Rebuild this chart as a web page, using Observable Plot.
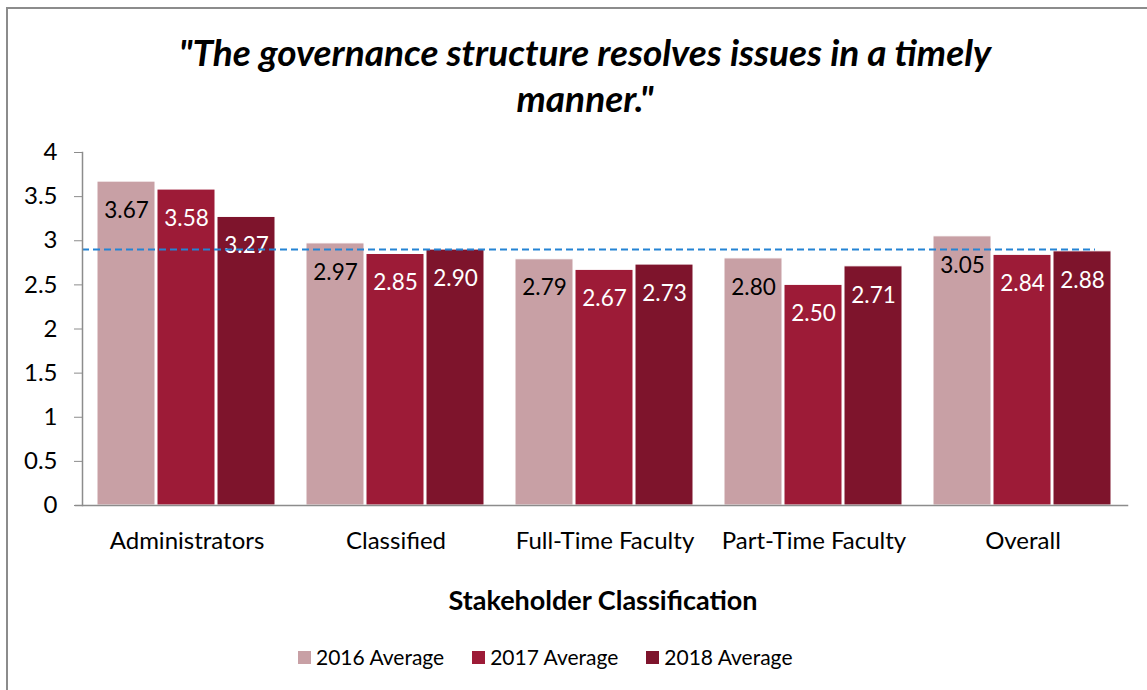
<!DOCTYPE html>
<html><head><meta charset="utf-8">
<script src="https://cdn.jsdelivr.net/npm/d3@7"></script>
<script src="https://cdn.jsdelivr.net/npm/@observablehq/plot@0.6"></script>
<style>
body{margin:0;background:#fff;font-family:Lato,sans-serif;color:#000;}
#wrap{position:relative;width:1147px;height:690px;overflow:hidden;background:#fff;}
#border{position:absolute;left:6px;top:7px;width:1200px;height:760px;border-left:2px solid #8c8c8c;border-top:2px solid #8c8c8c;}
#title{position:absolute;top:29px;left:0;width:1170px;text-align:center;font-style:italic;font-weight:700;font-size:37px;line-height:46px;}
#chart{position:absolute;top:130px;left:0;}
#xlabel{position:absolute;top:585px;left:0;width:1206px;text-align:center;font-weight:700;font-size:27px;line-height:30px;}
#legend{position:absolute;top:642px;left:298px;display:flex;align-items:center;font-size:21px;line-height:30px;}
.item{display:flex;align-items:center;margin-right:28px;}
.sw{width:13px;height:13px;margin-right:5px;}
</style></head>
<body><div id="wrap">
<div id="border"></div>
<div id="title">"The governance structure resolves issues in a timely<br>manner."</div>
<div id="chart"></div>
<div id="xlabel">Stakeholder Classification</div>
<div id="legend"></div>
</div>
<script>
const categories = ["Administrators", "Classified", "Full-Time Faculty", "Part-Time Faculty", "Overall"];
const years = ["2016 Average", "2017 Average", "2018 Average"];
const avg2016 = [3.67, 2.97, 2.79, 2.80, 3.05];
const avg2017 = [3.58, 2.85, 2.67, 2.50, 2.84];
const avg2018 = [3.27, 2.90, 2.73, 2.71, 2.88];
const benchmark = 2.9;
const yTicks = [0, 0.5, 1, 1.5, 2, 2.5, 3, 3.5, 4];
const colors = ["#C8A0A5", "#9D1B37", "#7E142C"];

const series = [avg2016, avg2017, avg2018];
const data = [];
categories.forEach((c, i) => years.forEach((y, j) => data.push({category: c, year: y, value: series[j][i]})));
const ref = categories.map(c => ({category: c, value: benchmark}));
const lastCat = categories[categories.length - 1];

const chart = Plot.plot({
  width: 1147, height: 430,
  marginLeft: 82, marginRight: 20, marginTop: 22, marginBottom: 55,
  style: {fontFamily: "Lato, sans-serif", fontSize: "20px", color: "#000", background: "transparent"},
  fx: {domain: categories, padding: 0, label: null},
  x: {domain: years, paddingInner: 0.03, paddingOuter: 0.25, axis: null},
  y: {domain: [0, 4], axis: null, label: null},
  color: {domain: years, range: colors},
  marks: [
    Plot.barY(data, {fx: "category", x: "year", y: "value", fill: "year", stroke: "white", strokeWidth: 1}),
    Plot.text(data.filter(d => d.year === years[0]), {fx: "category", x: "year", y: "value", text: d => d.value.toFixed(2), dy: 29, fill: "black", fontSize: 22.5}),
    Plot.text(data.filter(d => d.year !== years[0]), {fx: "category", x: "year", y: "value", text: d => d.value.toFixed(2), dy: 29, fill: "white", fontSize: 22.5}),
    Plot.ruleY(ref.filter(d => d.category !== lastCat), {fx: "category", y: "value", stroke: "#2484D4", strokeWidth: 2, strokeDasharray: "7,4"}),
    Plot.ruleY(ref.filter(d => d.category === lastCat), {fx: "category", y: "value", stroke: "#2484D4", strokeWidth: 2, strokeDasharray: "7,4", insetRight: 32}),
    Plot.frame({anchor: "left", facet: "super", stroke: "#8c8c8c", strokeWidth: 1.5}),
    Plot.frame({anchor: "bottom", facet: "super", stroke: "#8c8c8c", strokeWidth: 1.5, insetLeft: -7}),
    Plot.axisY({ticks: yTicks, tickSize: 8, tickPadding: 17, stroke: "#8c8c8c", fill: "black", fontSize: 24, label: null, tickFormat: d => String(d)}),
    Plot.axisFx({anchor: "bottom", tickSize: 0, tickPadding: 26, fontSize: 24, label: null, fill: "black"})
  ]
});
document.getElementById("chart").appendChild(chart);

const legend = document.getElementById("legend");
years.forEach((y, j) => {
  const it = document.createElement("div"); it.className = "item";
  const sw = document.createElement("div"); sw.className = "sw"; sw.style.background = colors[j];
  const t = document.createElement("span"); t.textContent = y;
  it.appendChild(sw); it.appendChild(t); legend.appendChild(it);
});
</script>
</body></html>
